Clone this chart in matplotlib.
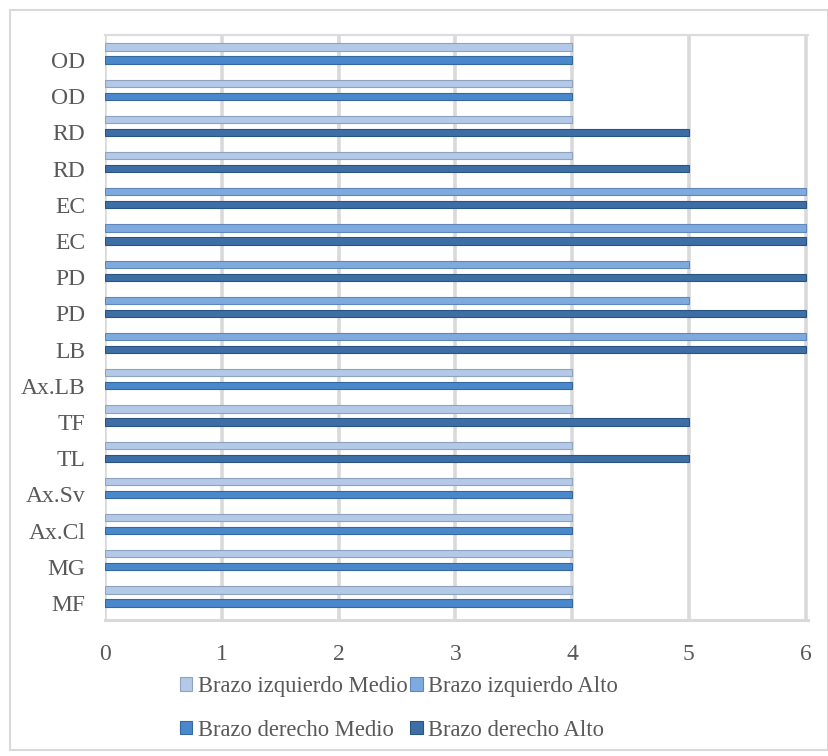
import numpy as np
import matplotlib.pyplot as plt
from matplotlib.patches import Rectangle

plt.rcParams['font.family'] = ['Liberation Serif', 'DejaVu Serif']

# categories from bottom to top
categories = ['MF', 'MG', 'Ax.Cl', 'Ax.Sv', 'TL', 'TF', 'Ax.LB', 'LB',
              'PD', 'PD', 'EC', 'EC', 'RD', 'RD', 'OD', 'OD']
izq_medio = [4, 4, 4, 4, 4, 4, 4, 0, 0, 0, 0, 0, 4, 4, 4, 4]
izq_alto = [0, 0, 0, 0, 0, 0, 0, 6, 5, 5, 6, 6, 0, 0, 0, 0]
der_medio = [4, 4, 4, 4, 0, 0, 4, 0, 0, 0, 0, 0, 0, 0, 4, 4]
der_alto = [0, 0, 0, 0, 5, 5, 0, 6, 6, 6, 6, 6, 5, 5, 0, 0]
xticks = [0, 1, 2, 3, 4, 5, 6]

colors = {'izq_medio': '#b4c9e8', 'izq_alto': '#7eaadf',
          'der_medio': '#4a88cc', 'der_alto': '#3d6ea6'}
edges = {'izq_medio': '#8ea3c0', 'izq_alto': '#5f87b8',
         'der_medio': '#36689f', 'der_alto': '#2c5480'}

fig = plt.figure(figsize=(8.29, 7.56), dpi=100)
fig.patches.append(Rectangle((10 / 829, 6 / 756), 818 / 829, 740 / 756,
                             transform=fig.transFigure, fill=False,
                             edgecolor='#d9d9d9', linewidth=1.5))
ax = fig.add_axes([105 / 829, 1 - 620 / 756, 703 / 829, 585 / 756])

y = np.arange(len(categories))
h = 0.2
upper = 0.36


def draw(vals, offset, key, label):
    vals = np.array(vals, dtype=float)
    m = vals > 0
    ax.barh(y[m] + offset, vals[m], height=h, color=colors[key],
            edgecolor=edges[key], linewidth=0.8, label=label, zorder=3)


draw(izq_medio, upper, 'izq_medio', 'Brazo izquierdo Medio')
draw(izq_alto, upper, 'izq_alto', 'Brazo izquierdo Alto')
draw(der_medio, 0, 'der_medio', 'Brazo derecho Medio')
draw(der_alto, 0, 'der_alto', 'Brazo derecho Alto')

ax.set_xlim(0, 6.02)
ax.set_ylim(-0.47, 15.69)
ax.set_xticks(xticks)
ax.set_yticks(y)
ax.set_yticklabels(categories)
for xv in xticks:
    ax.axvline(xv, color='#d9d9d9', linewidth=2.6, zorder=1)
for s in ['left', 'right']:
    ax.spines[s].set_visible(False)
ax.spines['top'].set_color('#dcdcdc')
ax.spines['top'].set_linewidth(1.6)
ax.spines['bottom'].set_color('#d9d9d9')
ax.spines['bottom'].set_linewidth(2.2)
ax.tick_params(axis='both', length=0, labelsize=17, colors='#595959')
ax.tick_params(axis='y', pad=14)
ax.tick_params(axis='x', pad=17)

handles, labels = ax.get_legend_handles_labels()
order = [0, 2, 1, 3]
leg = fig.legend([handles[i] for i in order], [labels[i] for i in order],
                 ncol=2, loc='upper left', bbox_to_anchor=(180 / 829, 1 - 676 / 756),
                 frameon=False, fontsize=16.3, handlelength=0.55, handleheight=0.55,
                 handletextpad=0.25, columnspacing=0.1, labelspacing=1.0,
                 borderaxespad=0, borderpad=0)
for t in leg.get_texts():
    t.set_color('#595959')

fig.savefig('out.png', dpi=100)
